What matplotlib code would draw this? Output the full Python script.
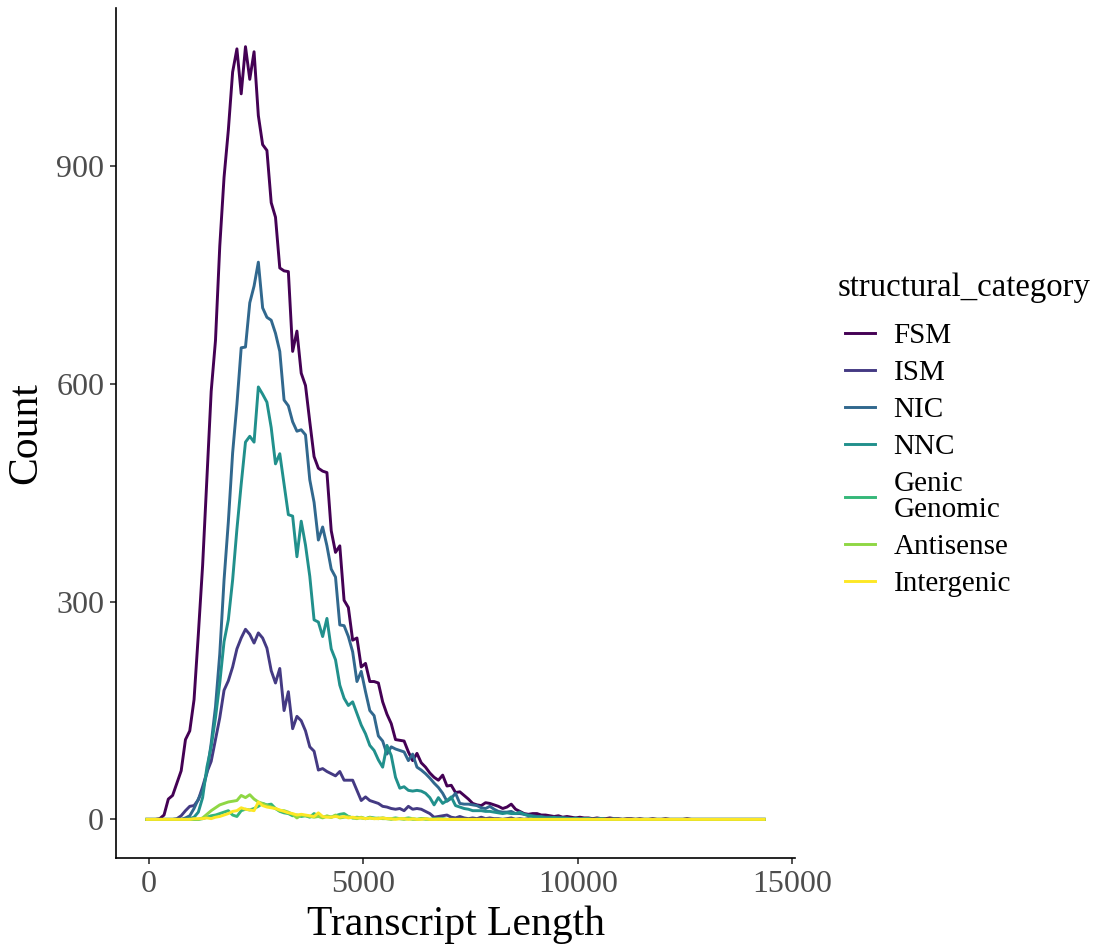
import numpy as np
import matplotlib
matplotlib.use("Agg")
import matplotlib.pyplot as plt

plt.rcParams['font.family'] = ['Liberation Serif', 'DejaVu Serif']

# bin centres of the frequency polygon (binwidth 100)
bin_centers = np.arange(-50, 14400, 100)

categories = ["FSM", "ISM", "NIC", "NNC", "Genic\nGenomic", "Antisense", "Intergenic"]
colors = ["#440154", "#443A83", "#31688E", "#21908C", "#35B779", "#8FD744", "#FDE725"]

fsm = [0, 0, 0, 1, 6, 28, 33, 50, 67, 110,
       122, 165, 255, 350, 470, 590, 660, 790, 885, 950,
       1030, 1062, 1000, 1065, 1020, 1058, 970, 930, 922, 850,
       830, 760, 756, 755, 645, 673, 615, 598, 548, 500,
       484, 480, 478, 398, 368, 377, 302, 292, 247, 250,
       210, 215, 190, 190, 188, 162, 145, 132, 110, 109,
       108, 93, 81, 91, 78, 72, 64, 58, 54, 61,
       46, 47, 37, 38, 33, 28, 22, 20, 19, 23,
       22, 20, 18, 15, 17, 21, 14, 11, 8, 7,
       8, 8, 6, 6, 5, 4, 5, 3, 4, 3,
       2, 3, 2, 2, 1, 2, 1, 1, 2, 1,
       1, 0, 1, 1, 0, 1, 0, 0, 1, 0,
       0, 1, 0, 0, 0, 0, 1, 0, 0, 0] + [0] * 15

ism = [0, 0, 0, 0, 0, 0, 0, 1, 5, 12,
       18, 19, 27, 45, 65, 80, 110, 140, 178, 191,
       210, 235, 250, 262, 255, 243, 257, 250, 236, 205,
       188, 208, 150, 176, 125, 142, 136, 122, 100, 94,
       68, 70, 66, 63, 60, 66, 54, 54, 54, 40,
       26, 31, 26, 24, 22, 18, 17, 15, 14, 15,
       12, 18, 14, 15, 14, 11, 8, 3, 4, 5,
       6, 3, 2, 4, 2, 1, 2, 1, 3, 1,
       2, 1, 1, 0, 1, 2, 0, 1, 0, 1,
       0, 0, 1, 0, 0, 0, 1, 0, 0, 0] + [0] * 45

nic = [0, 0, 0, 0, 0, 0, 0, 0, 0, 2,
       5, 15, 28, 40, 64, 105, 155, 228, 330, 410,
       505, 572, 650, 651, 712, 735, 768, 705, 692, 688,
       670, 645, 578, 570, 548, 535, 537, 530, 468, 437,
       385, 403, 377, 345, 334, 268, 267, 252, 231, 190,
       204, 176, 150, 143, 115, 108, 90, 100, 97, 95,
       93, 81, 90, 72, 68, 63, 57, 50, 44, 36,
       25, 29, 36, 22, 21, 21, 20, 19, 16, 15,
       18, 14, 11, 10, 10, 11, 8, 8, 7, 6,
       5, 4, 4, 3, 3, 2, 3, 2, 2, 1,
       2, 1, 1, 1, 0, 1, 1, 0, 0, 1] + [0] * 35

nnc = [0, 0, 0, 0, 0, 0, 0, 0, 0, 0,
       1, 3, 10, 30, 72, 100, 140, 188, 245, 275,
       330, 400, 462, 520, 528, 520, 596, 586, 575, 540,
       490, 504, 462, 420, 418, 362, 411, 378, 335, 275,
       272, 252, 277, 235, 220, 185, 167, 157, 162, 146,
       130, 118, 102, 95, 82, 72, 102, 88, 58, 43,
       45, 40, 39, 40, 39, 36, 30, 20, 30, 22,
       26, 31, 19, 17, 15, 14, 12, 12, 12, 11,
       11, 10, 9, 8, 9, 8, 8, 10, 7, 5,
       4, 3, 3, 2, 2, 3, 1, 2, 1, 1,
       1, 0, 1, 1, 0, 0, 1, 0, 0, 0] + [0] * 35

genic_genomic = [0, 0, 0, 0, 0, 0, 0, 0, 0, 0,
                 0, 0, 0, 1, 3, 5, 6, 8, 10, 12,
                 6, 4, 12, 14, 13, 15, 18, 22, 20, 21,
                 15, 11, 9, 8, 5, 6, 4, 5, 3, 8,
                 5, 3, 4, 3, 5, 7, 8, 4, 2, 3,
                 2, 1, 3, 2, 1, 2, 1, 1, 2, 1,
                 1, 2, 1, 0, 1, 1, 0, 1, 0, 1] + [0] * 75

antisense = [0, 0, 0, 0, 0, 0, 0, 0, 0, 0,
             0, 0, 0, 2, 7, 12, 16, 20, 22, 24,
             25, 26, 33, 30, 34, 28, 24, 22, 19, 17,
             15, 12, 12, 10, 7, 2, 6, 5, 4, 3,
             4, 2, 5, 3, 6, 2, 3, 4, 2, 1,
             3, 1, 2, 1, 2, 1, 1, 0, 1, 1,
             0, 1, 0, 0, 1, 0, 0, 0, 1, 0] + [0] * 75

intergenic = [0, 0, 0, 0, 0, 0, 0, 0, 0, 0,
              0, 1, 1, 1, 2, 1, 3, 4, 6, 8,
              11, 12, 16, 14, 13, 12, 24, 19, 17, 16,
              15, 13, 11, 9, 8, 6, 7, 6, 5, 4,
              9, 4, 3, 3, 4, 3, 4, 2, 3, 2,
              2, 1, 2, 1, 1, 2, 1, 1, 0, 1,
              1, 0, 1, 0, 0, 1, 0, 0, 0, 0] + [0] * 75

series = [fsm, ism, nic, nnc, genic_genomic, antisense, intergenic]

fig = plt.figure(figsize=(11.05, 9.46), dpi=100)
ax = fig.add_axes([0.105, 0.093, 0.6145, 0.8985])

handles = []
for name, vals, col in zip(categories, series, colors):
    h, = ax.plot(bin_centers, vals, color=col, lw=2.1, label=name)
    handles.append(h)

ax.set_xticks([0, 5000, 10000, 15000])
ax.set_yticks([0, 300, 600, 900])
ax.spines['top'].set_visible(False)
ax.spines['right'].set_visible(False)
for s in ['left', 'bottom']:
    ax.spines[s].set_linewidth(1.2)
ax.tick_params(axis='both', length=4.5, width=1.2, color='#333333',
               labelcolor='#4D4D4D', labelsize=23, pad=4)

ax.set_xlabel("Transcript Length", fontsize=30, labelpad=5)
ax.set_ylabel("Count", fontsize=30, labelpad=8)

# legend title drawn on its own so the gap to the keys matches
fig.text(838 / 1105, 1 - 288 / 946, "structural_category", fontsize=23.6,
         ha='left', va='center')
leg = fig.legend(handles=handles, labels=categories,
                 loc='upper left', bbox_to_anchor=(0.741, 0.687), frameon=False,
                 fontsize=21, handlelength=1.03,
                 handletextpad=0.63, labelspacing=0.37)
for t in leg.get_texts():
    t.set_linespacing(0.97)

fig.savefig("out.png", dpi=100)
